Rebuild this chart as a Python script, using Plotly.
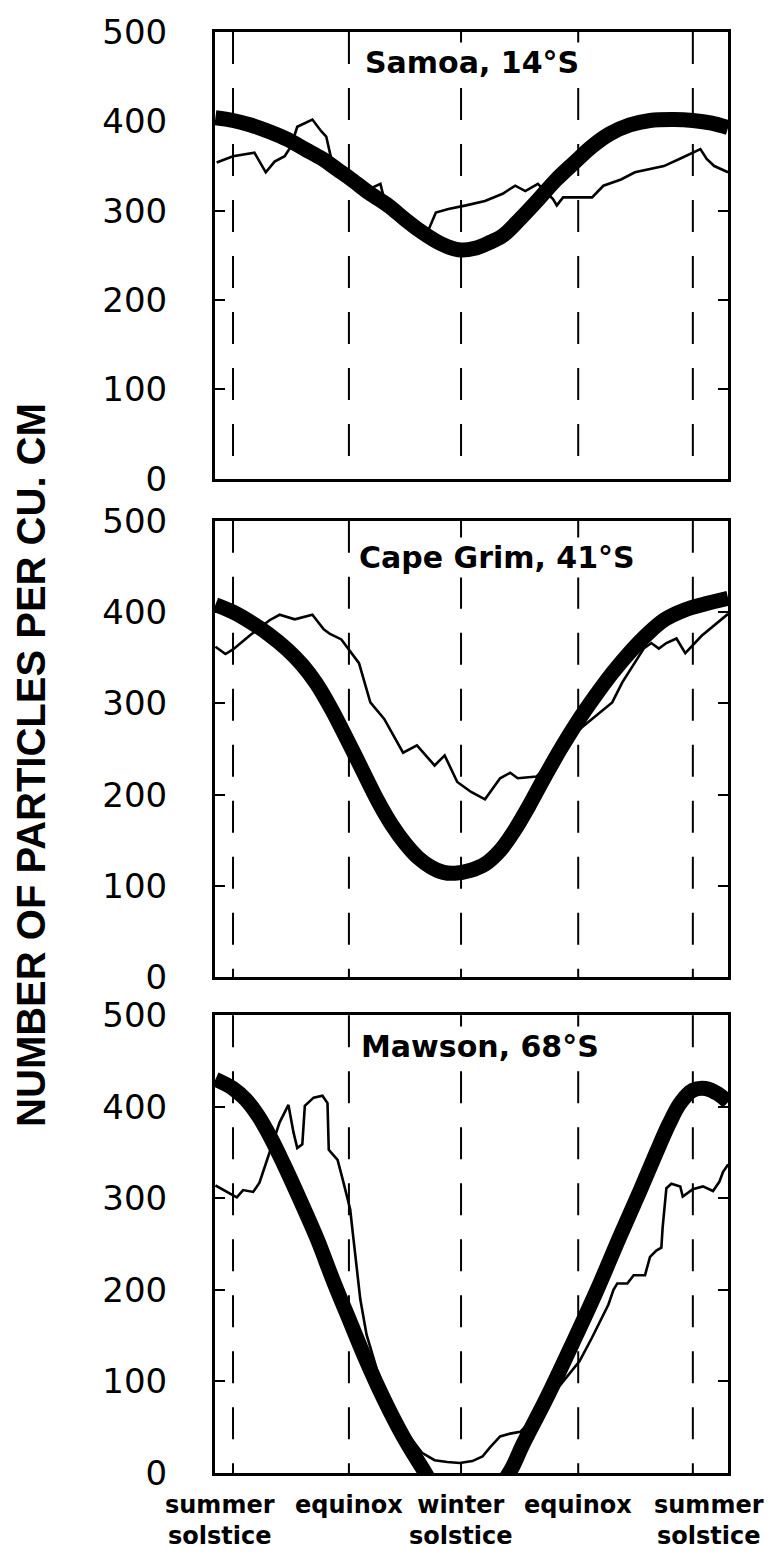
import plotly.graph_objects as go

# ---------------- data (days after the summer solstice, particles per cm^3) -------------
EVENT_DAYS = [0, 92, 181, 274, 365]
EVENT_LABELS = ["summer<br>solstice", "equinox", "winter<br>solstice", "equinox", "summer<br>solstice"]
STATIONS = ["Samoa, 14°S", "Cape Grim, 41°S", "Mawson, 68°S"]
Y_TICKS = [0, 100, 200, 300, 400, 500]

samoa_obs_day = [-13, 0, 17, 26, 33, 41, 46, 51, 63, 70, 74, 78, 91, 108, 117, 120, 127, 137, 147, 155,
                 161, 171, 185, 200, 214, 224, 232, 242, 254, 257, 262, 285, 294, 308, 319, 342, 356,
                 371, 376, 382, 393]
samoa_obs = [354, 361, 365, 343, 355, 361, 372, 394, 402, 389, 383, 358, 343, 324, 330, 313, 304, 291, 283,
             278, 298, 302, 306, 311, 319, 328, 322, 330, 313, 306, 315, 315, 328, 335, 343, 350, 359,
             369, 358, 350, 343]
samoa_fit_day = [-14, 0, 14, 28, 43, 57, 71, 83, 94, 108, 123, 136, 148, 160, 170, 181, 192, 203, 214,
                 228, 242, 256, 271, 285, 299, 315, 331, 350, 365, 380, 393]
samoa_fit = [404, 401, 396, 389, 380, 369, 358, 346, 335, 320, 306, 291, 278, 267, 260, 256, 258, 264, 272,
             291, 312, 334, 354, 372, 386, 396, 401, 402, 401, 398, 393]

grim_obs_day = [-14, -6, 0, 14, 29, 37, 49, 63, 72, 77, 86, 100, 109, 120, 135, 146, 160, 168, 178, 189,
                200, 212, 220, 226, 241, 255, 270, 286, 301, 309, 326, 332, 338, 344, 352, 359, 372, 393]
grim_obs = [362, 354, 359, 375, 391, 397, 392, 397, 381, 376, 370, 344, 301, 283, 246, 254, 232, 243, 214,
            203, 195, 218, 224, 218, 220, 240, 266, 284, 301, 323, 360, 366, 360, 366, 371, 355, 374, 398]
grim_fit_day = [-14, 0, 14, 28, 43, 55, 66, 78, 90, 103, 115, 126, 137, 147, 157, 167, 176, 188, 200, 212,
                223, 235, 246, 260, 273, 287, 301, 315, 329, 343, 358, 375, 393]
grim_fit = [408, 400, 389, 376, 359, 342, 322, 294, 262, 226, 193, 167, 146, 131, 121, 115, 114, 117, 124,
            139, 160, 188, 216, 250, 279, 307, 333, 356, 376, 392, 402, 409, 415]

mawson_obs_day = [-14, -9, 3, 8, 16, 21, 27, 37, 44, 48, 51, 55, 57, 64, 71, 75, 76, 83, 87, 93, 95, 98,
                  101, 106, 114, 118, 130, 140, 150, 160, 170, 180, 190, 198, 204, 212, 220, 228, 240,
                  255, 265, 275, 285, 293, 298, 302, 305, 313, 318, 327, 331, 336, 340, 341, 344, 348,
                  355, 357, 365, 373, 381, 386, 389, 393]
mawson_obs = [314, 310, 301, 309, 307, 317, 342, 383, 402, 372, 355, 359, 401, 410, 412, 404, 353, 342,
              321, 288, 263, 227, 190, 151, 114, 100, 65, 40, 22, 14, 12, 11, 13, 18, 28, 40, 43, 45, 62,
              88, 105, 122, 148, 170, 184, 200, 207, 207, 216, 216, 236, 243, 246, 268, 311, 316, 313,
              302, 310, 313, 308, 318, 329, 337]
mawson_fit_day = [-14, 0, 10, 20, 30, 40, 53, 67, 79, 93, 106, 120, 135, 150, 165, 185, 205, 220, 230,
                  249, 270, 289, 307, 323, 336, 346, 355, 365, 375, 385, 393]
mawson_fit = [430, 420, 408, 390, 366, 338, 299, 255, 212, 165, 122, 80, 40, 6, -25, -40, -25, 2, 31, 82,
              143, 200, 258, 308, 350, 381, 404, 418, 420, 414, 405]

OBS = [(samoa_obs_day, samoa_obs), (grim_obs_day, grim_obs), (mawson_obs_day, mawson_obs)]
FIT = [(samoa_fit_day, samoa_fit), (grim_fit_day, grim_fit), (mawson_fit_day, mawson_fit)]

# ---------------- figure -----------------
W, H = 770, 1555
ML, MR, MT, MB = 215, 42, 22, 82
domains = [[0.6899, 1.0], [0.3439, 0.6609], [0.0, 0.3177]]
label_x = [102, 98, 99]
label_y = [466, 460, 466]

fig = go.Figure()
for i in range(3):
    sx = "" if i == 0 else str(i + 1)
    od, ov = OBS[i]
    fd, fv = FIT[i]
    fig.add_trace(go.Scatter(x=od, y=ov, mode="lines", xaxis="x" + sx, yaxis="y" + sx,
                             line=dict(color="black", width=2.6), showlegend=False, hoverinfo="skip"))
    fig.add_trace(go.Scatter(x=fd, y=fv, mode="lines", xaxis="x" + sx, yaxis="y" + sx,
                             line=dict(color="black", width=15, shape="spline", smoothing=1.0),
                             showlegend=False, hoverinfo="skip"))
    ax = dict(range=[-14.3, 392.9], domain=[0, 1], anchor="y" + sx, showline=True, mirror=True,
              linewidth=3, linecolor="black", ticks="", showticklabels=False, showgrid=False,
              zeroline=False)
    ay = dict(range=[0, 500], domain=domains[i], anchor="x" + sx, showline=True, mirror="ticks",
              linewidth=3, linecolor="black", ticks="inside", ticklen=10, tickwidth=2,
              tickcolor="black", tickvals=Y_TICKS, ticktext=[str(v) for v in Y_TICKS],
              showgrid=False, zeroline=False, ticklabelstandoff=38,
              tickfont=dict(family="DejaVu Sans", size=34, color="black"))
    fig.update_layout(**{"xaxis" + sx: ax, "yaxis" + sx: ay})
    for d in EVENT_DAYS:
        fig.add_shape(type="line", xref="x" + sx, yref="y" + sx + " domain", x0=d, x1=d, y0=1, y1=0,
                      line=dict(color="black", width=2, dash="32px,24px"), layer="below")
    fig.add_annotation(x=label_x[i], y=label_y[i], xref="x" + sx, yref="y" + sx, text=STATIONS[i],
                       xanchor="left", yanchor="middle", showarrow=False, bgcolor="white",
                       borderpad=2,
                       font=dict(family="DejaVu Sans", size=30, color="black", weight="bold"))

xshift = [-13, 0, 0, 0, 16]
for d, t, s in zip(EVENT_DAYS, EVENT_LABELS, xshift):
    fig.add_annotation(x=d, y=0, xref="x3", yref="paper", text=t, showarrow=False, xanchor="center",
                       yanchor="top", yshift=-16, xshift=s, align="center",
                       font=dict(family="DejaVu Sans", size=24, color="black", weight="bold"))

fig.add_annotation(x=-0.3587, y=0.4914, xref="paper", yref="paper", text="NUMBER OF PARTICLES PER CU. CM",
                   textangle=-90, showarrow=False, xanchor="center", yanchor="middle",
                   font=dict(family="Liberation Sans", size=40, color="black", weight="bold"))

fig.update_layout(width=W, height=H, margin=dict(l=ML, r=MR, t=MT, b=MB),
                  paper_bgcolor="white", plot_bgcolor="white", showlegend=False)
fig.write_html("out.html")
